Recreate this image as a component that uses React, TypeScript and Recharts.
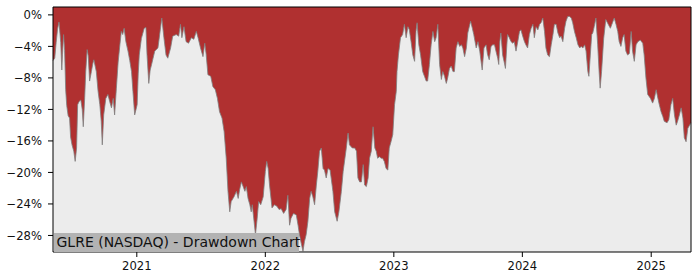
import { AreaChart, Area, XAxis, YAxis, CartesianGrid, ReferenceLine } from "recharts";

// month-day stamps and drawdown (%) per calendar year
const days2020 = [
  "05-08", "05-13", "05-17", "05-21", "05-25", "05-30",
  "06-02", "06-04", "06-07", "06-10", "06-13", "06-16", "06-20", "06-24", "06-27",
  "07-01", "07-06", "07-10", "07-14", "07-17", "07-21", "07-26", "07-30",
  "08-02", "08-06", "08-09", "08-13", "08-16", "08-20", "08-25", "08-29",
  "09-01", "09-08", "09-13", "09-18", "09-22", "09-25", "09-29",
  "10-05", "10-11", "10-16", "10-21", "10-26", "10-30",
  "11-04", "11-09", "11-14", "11-18", "11-22", "11-26",
  "12-01", "12-07", "12-12", "12-17", "12-21", "12-26",
];
const dd2020 = [
  -5.8, -5.5, -3.5, -1.8, -0.9, -3.5,
  -7.0, -5.0, -2.5, -4.5, -9.5, -11.5, -12.8, -13.1, -15.5,
  -16.5, -17.3, -18.6, -16.9, -11.4, -11.0, -10.8, -12.0,
  -14.2, -10.5, -7.2, -4.4, -5.2, -8.4, -7.2, -6.2,
  -5.7, -7.2, -9.7, -11.4, -13.5, -16.5, -12.7,
  -10.6, -10.1, -11.0, -11.8, -10.6, -12.7,
  -9.3, -6.0, -3.8, -2.1, -2.5, -1.7,
  -3.4, -4.6, -5.8, -7.2, -9.7, -12.7,
];

const days2021 = [
  "01-02", "01-05", "01-08", "01-14", "01-22", "01-27", "01-30",
  "02-04", "02-08", "02-12", "02-21",
  "03-02", "03-07", "03-13", "03-19", "03-25", "03-30",
  "04-07", "04-13", "04-23", "04-30",
  "05-05", "05-09", "05-15", "05-21", "05-28",
  "06-05", "06-12", "06-19", "06-24",
  "07-01", "07-08", "07-13", "07-17", "07-22", "07-30",
  "08-05", "08-12", "08-18", "08-24", "08-31",
  "09-06", "09-12", "09-17", "09-22", "09-26",
  "10-04", "10-11", "10-16", "10-20", "10-25", "10-30",
  "11-04", "11-08", "11-13", "11-18", "11-22", "11-25", "11-30",
  "12-04", "12-09", "12-13", "12-19", "12-26",
];
const dd2021 = [
  -11.4, -7.5, -5.1, -3.0, -1.7, -1.6, -5.0,
  -8.7, -7.0, -6.3, -4.6,
  -4.2, -2.5, -0.4, -2.9, -5.1, -5.5,
  -4.2, -2.7, -2.5, -2.7,
  -1.2, -2.9, -1.5, -3.4, -3.6,
  -2.9, -3.1, -2.1, -2.9,
  -4.2, -5.3, -3.6, -5.0, -7.6, -7.8,
  -9.1, -9.5, -10.6, -12.3, -13.1,
  -14.8, -18.2, -22.4, -25.0, -23.7,
  -23.1, -22.4, -23.3, -22.2, -21.2, -21.8,
  -22.4, -21.8, -23.3, -24.1, -25.0, -24.1, -26.2,
  -27.9, -25.8, -23.7, -24.1, -23.1,
];

const days2022 = [
  "01-01", "01-05", "01-09", "01-13", "01-20", "01-27",
  "02-03", "02-09", "02-15", "02-22",
  "03-01", "03-06", "03-11", "03-15", "03-22", "03-30",
  "04-04", "04-08", "04-13", "04-18", "04-22", "04-27",
  "05-02", "05-07", "05-11", "05-16", "05-21", "05-26", "05-30",
  "06-04", "06-09", "06-14", "06-18", "06-23", "06-28",
  "07-04", "07-12", "07-17", "07-24", "07-29",
  "08-05", "08-10", "08-19", "08-24", "08-28",
  "09-05", "09-12", "09-17", "09-21", "09-26",
  "10-01", "10-06", "10-10", "10-15", "10-20", "10-24", "10-29",
  "11-03", "11-08", "11-12", "11-16", "11-21", "11-26", "11-30",
  "12-05", "12-10", "12-15", "12-19", "12-24", "12-29",
];
const dd2022 = [
  -19.9, -18.6, -19.5, -21.6, -24.5, -24.1,
  -24.3, -24.7, -24.6, -25.2,
  -24.7, -22.9, -26.7, -25.8, -25.2, -25.4,
  -26.7, -27.9, -29.0, -30.0, -28.8, -27.9,
  -26.2, -23.3, -22.4, -23.1, -24.1, -21.6, -19.9,
  -17.3, -16.9, -19.5, -19.7, -20.7, -19.5,
  -19.7, -22.4, -25.0, -26.2, -25.0,
  -22.4, -19.9, -16.9, -15.0, -16.5,
  -16.9, -16.9, -17.3, -20.7, -21.2,
  -21.2, -19.0, -21.6, -21.8, -20.7, -18.2, -17.3,
  -14.2, -16.9, -17.3, -18.2, -18.0, -18.2, -18.2,
  -18.6, -19.5, -19.7, -16.9, -16.1, -15.2,
];

const days2023 = [
  "01-03", "01-08", "01-10", "01-14", "01-20", "01-26", "01-31",
  "02-05", "02-10", "02-14", "02-19", "02-24",
  "03-01", "03-05", "03-08", "03-13", "03-18", "03-24", "03-29",
  "04-03", "04-07", "04-12", "04-17", "04-22", "04-27",
  "05-01", "05-06", "05-11", "05-16", "05-20", "05-25", "05-30",
  "06-03", "06-08", "06-13", "06-18", "06-22", "06-27",
  "07-02", "07-07", "07-12", "07-16", "07-21", "07-26", "07-30",
  "08-07", "08-12", "08-16", "08-23", "08-28",
  "09-02", "09-09", "09-14", "09-20", "09-24", "09-29",
  "10-04", "10-09", "10-14", "10-18", "10-23", "10-26", "10-29",
  "11-01", "11-06", "11-11", "11-14", "11-18", "11-20", "11-25", "11-30",
  "12-05", "12-09", "12-14", "12-19", "12-24", "12-28",
];
const dd2023 = [
  -11.4, -9.7, -7.2, -5.1, -2.9, -2.5, -1.2,
  -2.9, -1.5, -1.9, -3.4, -5.1,
  -5.9, -2.1, -1.0, -3.8, -5.1, -7.2, -7.8,
  -8.4, -8.4, -6.3, -3.8, -2.1, -3.4,
  -2.9, -1.2, -6.3, -8.2, -7.2, -7.8, -8.7,
  -8.0, -6.8, -6.5, -7.2, -7.2, -4.2,
  -3.4, -4.0, -3.8, -4.2, -5.3, -4.2, -2.3,
  -0.8, -1.7, -2.5, -4.2, -3.4,
  -4.6, -7.0, -4.2, -3.8, -5.0, -5.7,
  -4.0, -3.8, -3.8, -4.6, -5.5, -6.3, -3.4,
  -2.3, -5.1, -6.1, -6.8, -3.8, -2.5, -2.9, -3.4,
  -3.6, -3.4, -4.6, -3.4, -2.1, -1.9,
];

const days2024 = [
  "01-02", "01-07", "01-11", "01-16", "01-21", "01-26", "01-31",
  "02-04", "02-09", "02-14", "02-19", "02-23", "02-28",
  "03-04", "03-08", "03-13", "03-18", "03-23", "03-28",
  "04-01", "04-06", "04-11", "04-16", "04-20", "04-25", "04-30",
  "05-04", "05-09", "05-14", "05-19", "05-23", "05-28",
  "06-02", "06-07", "06-12", "06-16", "06-21", "06-26", "06-30",
  "07-05", "07-08", "07-12", "07-16", "07-19", "07-23", "07-28",
  "08-02", "08-06", "08-09", "08-13", "08-19", "08-25",
  "09-01", "09-07", "09-13", "09-18", "09-23", "09-28",
  "10-02", "10-07", "10-12", "10-16", "10-21", "10-26", "10-31",
  "11-05", "11-09", "11-14", "11-19", "11-24",
  "12-01", "12-08", "12-12", "12-17", "12-22", "12-30",
];
const dd2024 = [
  -2.7, -3.4, -3.8, -4.2, -2.5, -1.7, -1.2,
  -2.9, -1.5, -1.9, -1.2, -1.0, -0.4,
  -2.1, -4.2, -5.1, -5.3, -3.8, -2.5,
  -1.2, -1.2, -2.3, -2.9, -2.7, -3.4, -1.7,
  -0.8, -0.2, -0.2, -0.4, -1.0, -2.1,
  -2.9, -3.8, -4.2, -4.0, -4.2, -3.8, -4.6,
  -7.2, -7.8, -5.1, -2.5, -2.3, -1.5, -0.4,
  -3.8, -7.2, -9.3, -7.2, -3.0, -0.6,
  -1.2, -1.7, -1.0, -0.4, -1.2, -2.1,
  -3.4, -4.0, -2.9, -2.5, -4.6, -5.1, -4.9,
  -2.1, -4.6, -5.9, -3.8, -3.4,
  -3.2, -3.6, -5.1, -8.0, -10.1, -10.6,
];

const days2025 = [
  "01-05", "01-10", "01-15", "01-20", "01-24", "01-29",
  "02-03", "02-07", "02-15", "02-20", "02-26",
  "03-03", "03-08", "03-13", "03-17", "03-22", "03-27",
  "04-01", "04-05", "04-10", "04-15", "04-20", "04-24",
];
const dd2025 = [
  -11.2, -10.6, -9.5, -10.6, -11.4, -12.3,
  -12.9, -13.5, -13.7, -13.3, -11.4,
  -10.6, -12.7, -14.0, -13.5, -12.7, -11.8,
  -13.1, -15.6, -16.1, -14.4, -14.0, -13.7,
];

const yearTicks = ["2021", "2022", "2023", "2024", "2025"];
const pctTicks = [0, -4, -8, -12, -16, -20, -24, -28];
const title = "GLRE (NASDAQ) - Drawdown Chart";

const years: [string, string[], number[]][] = [
  ["2020", days2020, dd2020],
  ["2021", days2021, dd2021],
  ["2022", days2022, dd2022],
  ["2023", days2023, dd2023],
  ["2024", days2024, dd2024],
  ["2025", days2025, dd2025],
];

const data = years.flatMap(([y, days, vals]) =>
  days.map((md, i) => ({ t: Date.parse(`${y}-${md}`), dd: vals[i] }))
);

const yMin = -30.1;
const yMax = 1;
const tStart = data[0].t;
const tEnd = data[data.length - 1].t;

const font = "'DejaVu Sans', sans-serif";
const tickStyle = { fontSize: 11.6, fill: "#111", fontFamily: font };

export default function App() {
  return (
    <div style={{ position: "absolute", left: 0, top: 0, width: 700, height: 280, background: "#fff" }}>
      <AreaChart width={700} height={280} data={data} margin={{ top: 7, right: 9, bottom: 0, left: 0 }}>
        <CartesianGrid fill="#ececec" horizontal={false} vertical={false} />
        <XAxis
          dataKey="t"
          type="number"
          scale="time"
          domain={[tStart, tEnd]}
          ticks={yearTicks.map((y) => Date.parse(`${y}-01-01`))}
          tickFormatter={(v) => String(new Date(v).getUTCFullYear())}
          tick={tickStyle}
          tickSize={5}
          tickMargin={5}
          height={28}
          axisLine={{ stroke: "#000" }}
          tickLine={{ stroke: "#000" }}
        />
        <YAxis
          type="number"
          domain={[yMin, yMax]}
          ticks={pctTicks}
          tickFormatter={(v) => `${v < 0 ? "\u2212" + Math.abs(v) : v}%`}
          tick={tickStyle}
          tickSize={5}
          tickMargin={6}
          width={53}
          axisLine={{ stroke: "#000" }}
          tickLine={{ stroke: "#000" }}
        />
        <Area
          dataKey="dd"
          type="linear"
          baseValue={yMax}
          fill="#b03030"
          fillOpacity={1}
          stroke="#7f7f7f"
          strokeWidth={0.8}
          isAnimationActive={false}
        />
        <ReferenceLine y={yMax} stroke="#000" strokeWidth={1} />
        <ReferenceLine x={tEnd} stroke="#000" strokeWidth={1} />
      </AreaChart>
      <div
        style={{
          position: "absolute",
          left: 53.5,
          top: 233,
          width: 245,
          height: 19,
          lineHeight: "19px",
          background: "#b3b3b3",
          fontFamily: font,
          fontSize: 14,
          color: "#111",
          paddingLeft: 3,
          boxSizing: "border-box",
          whiteSpace: "nowrap",
        }}
      >
        {title}
      </div>
    </div>
  );
}
